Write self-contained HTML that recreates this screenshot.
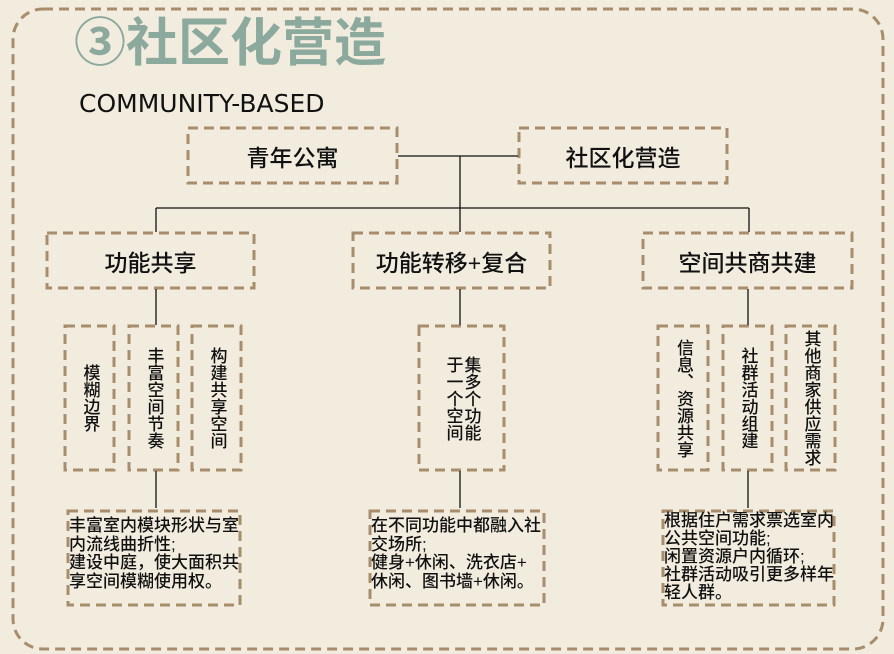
<!DOCTYPE html>
<html><head><meta charset="utf-8"><style>
*{margin:0;padding:0;box-sizing:border-box}
body{width:894px;height:654px;background:#f2ecdf;position:relative;overflow:hidden;font-family:"Liberation Sans","Noto Sans CJK SC",sans-serif;color:#111}
svg{position:absolute;left:0;top:0}
.t{position:absolute;display:flex;align-items:center;justify-content:center;white-space:nowrap}
.v{writing-mode:vertical-rl;font-size:17px;line-height:18px;font-weight:500}
.p{position:absolute;font-size:17px;line-height:18.5px;white-space:nowrap;font-weight:500}
.h{font-size:23px;font-weight:500}
</style></head><body>
<svg width="894" height="654">
<g fill="none" stroke="#a88d6c" stroke-width="3" stroke-dasharray="10 6">
<rect x="13" y="9" width="870" height="640" rx="30"/>
<rect x="188" y="128" width="209" height="55"/>
<rect x="519" y="128" width="208" height="55"/>
<rect x="47" y="233" width="207" height="55"/>
<rect x="353" y="233" width="197" height="55"/>
<rect x="643" y="233" width="209" height="55"/>
<rect x="65" y="326" width="49" height="144"/>
<rect x="129" y="326" width="49" height="144"/>
<rect x="192" y="326" width="49" height="144"/>
<rect x="419" y="326" width="85" height="144"/>
<rect x="658" y="326" width="50" height="144"/>
<rect x="723" y="326" width="49" height="144"/>
<rect x="786" y="326" width="49" height="144"/>
<rect x="68" y="511" width="172" height="94"/>
<rect x="370" y="511" width="174" height="94"/>
<rect x="663" y="511" width="171" height="94"/>
</g>
<g stroke="#111" stroke-width="1.3" fill="none">
<line x1="398" y1="156" x2="518" y2="156"/>
<line x1="460" y1="156" x2="460" y2="208"/>
<line x1="156" y1="208" x2="749" y2="208"/>
<line x1="156" y1="208" x2="156" y2="232"/>
<line x1="460" y1="208" x2="460" y2="232"/>
<line x1="749" y1="208" x2="749" y2="232"/>
<line x1="156" y1="289" x2="156" y2="325"/>
<line x1="460" y1="289" x2="460" y2="325"/>
<line x1="748" y1="289" x2="748" y2="325"/>
<line x1="156" y1="471" x2="156" y2="508"/>
<line x1="460" y1="471" x2="460" y2="508"/>
<line x1="748" y1="471" x2="748" y2="508"/>
</g>
</svg>
<div style="position:absolute;left:74px;top:4px;font-size:52px;font-weight:bold;color:#8ca99d;line-height:70px;font-family:'Noto Sans CJK SC',sans-serif">③社区化营造</div>
<div style="position:absolute;left:79px;top:88px;font-size:25px;line-height:32px;font-family:'DejaVu Sans','Liberation Sans',sans-serif">COMMUNITY-BASED</div>
<div class="t h" style="left:188px;top:128px;width:209px;height:55px">青年公寓</div>
<div class="t h" style="left:519px;top:128px;width:208px;height:55px">社区化营造</div>
<div class="t h" style="left:47px;top:233px;width:207px;height:55px">功能共享</div>
<div class="t h" style="left:353px;top:233px;width:197px;height:55px">功能转移+复合</div>
<div class="t h" style="left:643px;top:233px;width:209px;height:55px">空间共商共建</div>
<div class="t" style="left:65px;top:326px;width:49px;height:144px"><span class="v">模糊边界</span></div>
<div class="t" style="left:129px;top:326px;width:49px;height:144px"><span class="v">丰富空间节奏</span></div>
<div class="t" style="left:192px;top:326px;width:49px;height:144px"><span class="v">构建共享空间</span></div>
<div class="t" style="left:419px;top:326px;width:85px;height:144px"><span class="v">集多个功能<br>于一个空间</span></div>
<div class="t" style="left:658px;top:326px;width:50px;height:144px"><span class="v">信息、资源共享</span></div>
<div class="t" style="left:723px;top:326px;width:49px;height:144px"><span class="v">社群活动组建</span></div>
<div class="t" style="left:786px;top:326px;width:49px;height:144px"><span class="v">其他商家供应需求</span></div>
<div class="p" style="left:69px;top:517px">丰富室内模块形状与室<br>内流线曲折性;<br>建设中庭，使大面积共<br>享空间模糊使用权。</div>
<div class="p" style="left:371px;top:517px">在不同功能中都融入社<br>交场所;<br>健身+休闲、洗衣店+<br>休闲、图书墙+休闲。</div>
<div class="p" style="left:664px;top:512px;line-height:18px">根据住户需求票选室内<br>公共空间功能;<br>闲置资源户内循环;<br>社群活动吸引更多样年<br>轻人群。</div>
</body></html>
